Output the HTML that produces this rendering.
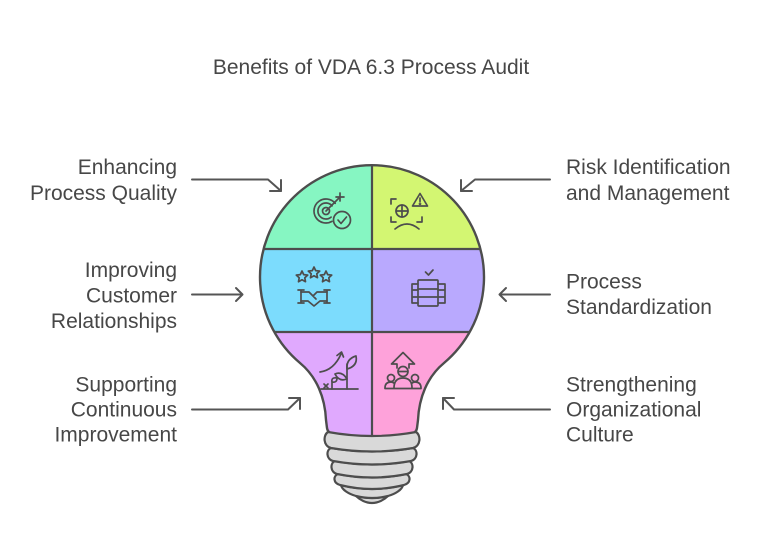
<!DOCTYPE html>
<html>
<head>
<meta charset="utf-8">
<style>
  html,body{margin:0;padding:0;background:#fff;}
  body{width:768px;height:554px;overflow:hidden;}
  svg{display:block;}
  text{font-family:"Liberation Sans", Arial, sans-serif;fill:#474747;}
</style>
</head>
<body>
<svg width="768" height="554" viewBox="0 0 768 554" xmlns="http://www.w3.org/2000/svg">
  <defs>
    <clipPath id="bulb">
      <path d="M327,428 L326,420 C325,398 317,377 300,363 A112 112 0 1 1 444,363 C427,377 419,398 418,420 L417,428 Q416,434 408,435 Q372,439 336,435 Q328,434 327,428 Z"/>
    </clipPath>
  </defs>

  <!-- Title -->
  <text x="371" y="74" font-size="21" text-anchor="middle">Benefits of VDA 6.3 Process Audit</text>

  <!-- Bulb segments -->
  <g clip-path="url(#bulb)">
    <rect x="250" y="160" width="122" height="89" fill="#86f6c2"/>
    <rect x="372" y="160" width="122" height="89" fill="#d3f672"/>
    <rect x="250" y="249" width="122" height="83" fill="#7cdcfd"/>
    <rect x="372" y="249" width="122" height="83" fill="#b9a9fe"/>
    <rect x="250" y="332" width="122" height="110" fill="#e0a9fe"/>
    <rect x="372" y="332" width="122" height="110" fill="#fea2da"/>
    <g stroke="#4d4d4d" stroke-width="2.2" fill="none">
      <line x1="372" y1="160" x2="372" y2="440"/>
      <line x1="250" y1="249" x2="494" y2="249"/>
      <line x1="250" y1="332" x2="494" y2="332"/>
    </g>
  </g>
  <path d="M327,428 L326,420 C325,398 317,377 300,363 A112 112 0 1 1 444,363 C427,377 419,398 418,420 L417,428 Q416,434 408,435 Q372,439 336,435 Q328,434 327,428 Z" fill="none" stroke="#4d4d4d" stroke-width="2.4"/>

  <!-- Screw base -->
  <g fill="#d9d9d9" stroke="#4d4d4d" stroke-width="2.2" stroke-linejoin="round">
    <path d="M356,496 Q372,500 388,496 C384,500 378,503 372,503 C366,503 360,500 356,496 Z"/>
    <path d="M341,485 Q372,493 403,485 C402,490 395,494 388,496 Q372,500 356,496 C349,494 342,490 341,485 Z"/>
    <path d="M338,474 Q372,481 406,474 C411,476 411,483 404,485 Q372,493 340,485 C333,483 333,476 338,474 Z"/>
    <path d="M335,461 Q372,468 409,461 C414,463 414,472 407,474 Q372,481 337,474 C330,472 330,463 335,461 Z"/>
    <path d="M331,448 Q372,455 413,448 C418,450 418,459 411,461 Q372,468 333,461 C326,459 326,450 331,448 Z"/>
    <path d="M328,432 Q372,440 416,432 C421,435 421,446 413,448 Q372,455 331,448 C323,446 323,435 328,432 Z"/>
  </g>

  <!-- Icons -->
  <g stroke="#4d4d4d" stroke-width="1.7" fill="none" stroke-linecap="round" stroke-linejoin="round">
    <!-- TL target -->
    <path d="M335.2,203.3 A12 12 0 1 0 332,221.4"/>
    <path d="M332.1,205.9 A8 8 0 1 0 331.1,217.1"/>
    <circle cx="326" cy="211" r="3.5"/>
    <path d="M326,211 L340,197"/>
    <path d="M336,197 L340,197 L340,193 M340,197 L344,197 M340,197 L340,201"/>
    <circle cx="342" cy="220" r="8.5" fill="#86f6c2"/>
    <path d="M338,220 L341,223.5 L346.5,217"/>

    <!-- TR face + warning -->
    <path d="M391,204 V199 H396 M391,217 V222 H396 M417,222 H422 V217"/>
    <circle cx="402" cy="211" r="6"/>
    <path d="M402,205 V217 M396,211 H408"/>
    <path d="M420,193.5 L427.5,206 L412.5,206 Z" fill="#d3f672"/>
    <path d="M420,198 V201.5"/>
    <circle cx="420" cy="203.8" r="0.5"/>
    <path d="M395,229 Q407,219 419,229"/>

    <!-- ML stars + handshake -->
    <path d="M302,271 L303.7,274.6 L307.7,275.1 L304.8,277.8 L305.5,281.7 L302,279.8 L298.5,281.7 L299.2,277.8 L296.3,275.1 L300.3,274.6 Z"/>
    <path d="M314,267 L315.7,270.6 L319.7,271.1 L316.8,273.8 L317.5,277.7 L314,275.8 L310.5,277.7 L311.2,273.8 L308.3,271.1 L312.3,270.6 Z"/>
    <path d="M326,271 L327.7,274.6 L331.7,275.1 L328.8,277.8 L329.5,281.7 L326,279.8 L322.5,281.7 L323.2,277.8 L320.3,275.1 L324.3,274.6 Z"/>
    <path d="M298,290 H304 M301,290 V303 M298,303 H304 M324,290 H330 M327,290 V303 M324,303 H330"/>
    <path d="M301,292 H309 L313,296 L317,292 H327 M301,301 H308 L314,306 L320,301 H327 M313,296 L316,299"/>

    <!-- MR server -->
    <path d="M425.5,272 L428.5,275 L433,270"/>
    <rect x="418" y="280" width="20" height="26" rx="1"/>
    <path d="M418,289 H438 M418,297 H438"/>
    <path d="M418,284 H412 V303 H418 M412,290 H418 M412,297 H418"/>
    <path d="M438,284 H445 V303 H438 M438,290 H445 M438,297 H445"/>

    <!-- BL growth -->
    <path d="M321,389 H358"/>
    <path d="M347,389 V364"/>
    <path d="M347,369 Q346,359 356,356 Q358,366 347,369 Z"/>
    <path d="M347,379 Q342,371 335,374 Q339,382 347,379 Z"/>
    <path d="M332,389 V382 Q331,377 337,378 Q337,383 332,382"/>
    <path d="M324,384 L328,388 M328,384 L324,388"/>
    <path d="M320,372 Q334,370 341,354"/>
    <path d="M337,355.5 L341.5,352 L343.5,357"/>

    <!-- BR people + arrow -->
    <path d="M397,368 V364 H391.5 L403,352.5 L414.5,364 H409 V368"/>
    <circle cx="403" cy="371.5" r="5" fill="#fea2da"/>
    <path d="M399,371.5 H407"/>
    <path d="M394,388 Q394,378 403,378 Q412,378 412,388" fill="#fea2da"/>
    <circle cx="391" cy="378" r="3.5"/>
    <path d="M385,388 Q385,382 391,382 Q393,382 394.5,383.5"/>
    <circle cx="415" cy="378" r="3.5"/>
    <path d="M421,388 Q421,382 415,382 Q413,382 411.5,383.5"/>
    <path d="M385,388.5 H421"/>
  </g>

  <!-- Arrows -->
  <g stroke="#555" stroke-width="2" fill="none" stroke-linecap="round" stroke-linejoin="round">
    <path d="M192,179.5 H268 L281,191"/>
    <path d="M281,180 V191 H270"/>
    <path d="M192,294.5 H242"/>
    <path d="M236,288 L242.5,294.5 L236,301"/>
    <path d="M192,409.5 H288 L300,398"/>
    <path d="M289,398 H300 V409"/>
    <path d="M550,179.5 H475 L461,191"/>
    <path d="M461,180 V191 H472"/>
    <path d="M550,294.5 H500"/>
    <path d="M506,288 L499.5,294.5 L506,301"/>
    <path d="M550,409.5 H454 L443,398"/>
    <path d="M454,398 H443 V409"/>
  </g>

  <!-- Left labels -->
  <g font-size="21" text-anchor="end">
    <text x="177" y="174">Enhancing</text>
    <text x="177" y="200">Process Quality</text>
    <text x="177" y="277">Improving</text>
    <text x="177" y="302.5">Customer</text>
    <text x="177" y="328">Relationships</text>
    <text x="177" y="391.5">Supporting</text>
    <text x="177" y="416.5">Continuous</text>
    <text x="177" y="441.5">Improvement</text>
  </g>

  <!-- Right labels -->
  <g font-size="21">
    <text x="566" y="174">Risk Identification</text>
    <text x="566" y="200">and Management</text>
    <text x="566" y="288.5">Process</text>
    <text x="566" y="314">Standardization</text>
    <text x="566" y="391.5">Strengthening</text>
    <text x="566" y="416.5">Organizational</text>
    <text x="566" y="441.5">Culture</text>
  </g>
</svg>
</body>
</html>
